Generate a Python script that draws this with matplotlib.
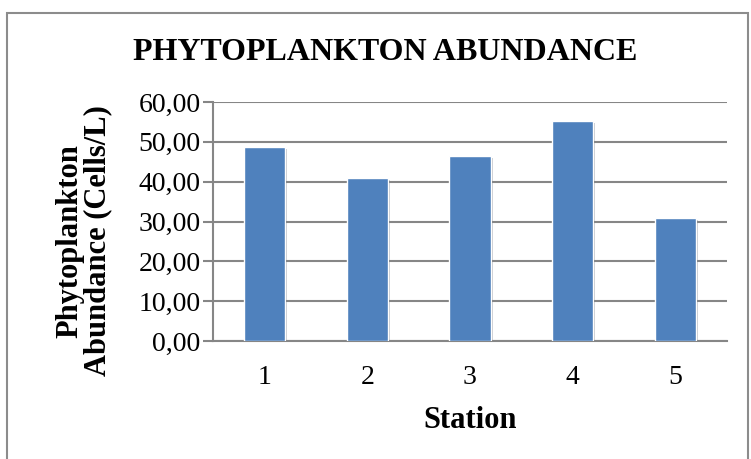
import numpy as np
import matplotlib
matplotlib.use('Agg')
import matplotlib.pyplot as plt
import matplotlib.patheffects as pe
from matplotlib.patches import Rectangle
from matplotlib.ticker import FuncFormatter

# Data
stations = ['1', '2', '3', '4', '5']
abundance = [48.6, 40.9, 46.5, 55.2, 30.9]

plt.rcParams['font.family'] = ['Liberation Serif', 'DejaVu Serif']

fig = plt.figure(figsize=(7.51, 4.59), dpi=100)
ax = fig.add_axes([213 / 751, 1 - 341 / 459, (727 - 213) / 751, (341 - 102) / 459])

# Outer chart border
fig.patches.append(Rectangle((7 / 751, -0.05), 741 / 751, 1 - 13 / 459 + 0.05,
                             transform=fig.transFigure, fill=False,
                             edgecolor='#8c8c8c', linewidth=1.5))

x = np.arange(len(stations))
bars = ax.bar(x, abundance, width=0.4, color='#4F81BD', edgecolor='white',
              linewidth=1.0, zorder=3)
for b in bars:
    b.set_path_effects([pe.SimplePatchShadow(offset=(1.5, -1.5), alpha=0.25), pe.Normal()])

ax.set_ylim(0, 60)
ax.set_xlim(-0.5, 4.5)
ax.set_yticks(np.arange(0, 61, 10))
ax.yaxis.set_major_formatter(FuncFormatter(lambda v, p: f'{v:.2f}'.replace('.', ',')))
ax.set_xticks(x)
ax.set_xticklabels(stations)

ax.grid(axis='y', color='#868686', linewidth=1.5, zorder=0)
for s in ['top', 'right']:
    ax.spines[s].set_visible(False)
ax.spines['left'].set_color('#868686')
ax.spines['left'].set_linewidth(1.5)
ax.spines['bottom'].set_color('#868686')
ax.spines['bottom'].set_linewidth(1.5)

ax.tick_params(axis='y', length=7, width=1.5, color='#868686', labelsize=20, pad=2)
ax.tick_params(axis='x', length=0, labelsize=20, pad=17)

ax.set_xlabel('Station', fontsize=22, fontweight='bold', labelpad=12)
ax.set_ylabel('Phytoplankton\nAbundance (Cells/L)', fontsize=22, fontweight='bold',
              linespacing=0.95)
ax.yaxis.set_label_coords(-0.196, 0.42)
fig.text(385 / 751, 1 - 52 / 459, 'PHYTOPLANKTON ABUNDANCE', ha='center', va='center',
         fontsize=23, fontweight='bold')

fig.savefig('out.png', dpi=100)
